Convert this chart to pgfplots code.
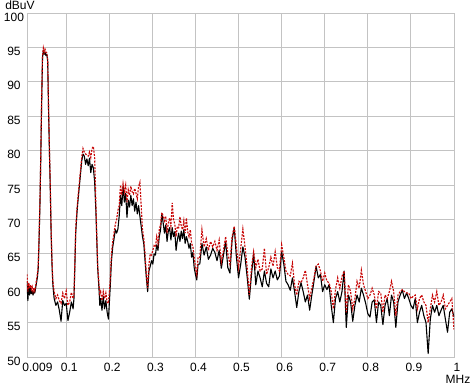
\documentclass[border=0pt]{standalone}
\usepackage{pgfplots}
\pgfplotsset{compat=1.18}
\usepackage{pgfplotstable}
\usepackage{fontspec}
\setmainfont{Liberation Sans}
\definecolor{gridgray}{RGB}{195,195,195}
\definecolor{myred}{RGB}{200,8,8}

\pgfplotstableread{
x b r
0.009 61.0 62.0
0.011 58.2 59.5
0.013 60.3 60.8
0.015 59.0 60.0
0.017 60.0 60.5
0.019 59.2 59.8
0.021 59.6 60.2
0.023 59.0 59.5
0.025 59.5 60.0
0.027 59.3 59.6
0.029 60.0 60.3
0.031 60.8 61.2
0.033 61.5 62.0
0.035 62.8 63.2
0.037 67.0 67.5
0.039 72.0 72.5
0.041 79.0 79.5
0.043 87.0 87.5
0.045 93.5 93.8
0.047 94.6 94.9
0.049 94.0 94.3
0.051 94.3 94.7
0.053 93.8 94.3
0.055 94.0 94.2
0.057 93.0 93.3
0.059 86.0 86.5
0.061 80.0 80.5
0.063 74.5 75.0
0.065 68.0 68.5
0.067 63.5 64.0
0.069 60.5 61.0
0.072 58.5 59.5
0.076 57.5 58.5
0.080 58.0 59.0
0.084 56.8 58.2
0.088 55.2 57.8
0.092 58.2 59.3
0.096 57.5 58.5
0.100 57.8 59.6
0.104 55.3 57.5
0.108 56.5 58.0
0.112 58.0 59.4
0.116 57.0 58.5
0.118 58.5 59.0
0.120 63.0 63.5
0.122 68.0 68.5
0.125 71.0 71.5
0.127 72.5 73.0
0.130 74.5 75.0
0.133 76.5 77.0
0.136 78.5 79.0
0.139 79.5 80.3
0.142 79.2 79.8
0.145 78.0 79.5
0.148 78.8 79.4
0.151 77.8 79.2
0.154 78.9 79.8
0.157 76.8 79.0
0.160 78.0 80.3
0.163 77.5 80.6
0.166 75.5 79.0
0.169 71.0 72.0
0.171 67.0 67.5
0.173 63.0 63.5
0.176 60.0 60.5
0.178 57.5 59.2
0.180 58.5 59.5
0.183 56.8 58.2
0.186 58.8 59.5
0.189 57.0 58.5
0.192 58.2 59.3
0.195 56.5 58.0
0.198 55.5 57.8
0.202 60.0 61.0
0.205 64.0 65.0
0.208 66.0 66.8
0.211 67.2 68.0
0.214 68.5 69.3
0.217 68.0 70.0
0.220 68.6 71.3
0.223 70.5 72.0
0.226 73.5 75.0
0.229 72.0 73.5
0.232 74.8 75.2
0.235 72.5 74.0
0.238 73.8 75.0
0.241 70.3 72.5
0.244 72.8 74.3
0.247 71.8 73.5
0.250 73.5 74.8
0.253 72.0 74.0
0.256 73.0 73.7
0.259 71.2 74.5
0.262 72.5 73.8
0.265 70.8 73.0
0.268 72.0 74.8
0.271 70.5 75.4
0.274 69.0 72.0
0.277 67.5 68.5
0.280 66.5 67.3
0.283 64.0 65.0
0.286 61.5 62.0
0.289 59.5 60.0
0.292 62.5 63.5
0.295 63.2 65.0
0.298 64.0 64.8
0.301 63.5 65.5
0.304 65.0 66.2
0.307 64.8 66.0
0.310 66.3 67.5
0.313 65.5 66.5
0.316 67.5 68.5
0.319 68.5 69.3
0.322 70.8 71.0
0.325 69.5 70.5
0.328 68.0 69.8
0.331 69.2 70.5
0.334 66.8 68.0
0.337 68.3 69.5
0.340 68.8 70.2
0.343 67.0 69.0
0.346 68.8 72.4
0.349 67.5 70.0
0.352 68.2 69.3
0.355 65.5 67.5
0.358 67.0 69.0
0.361 68.0 68.8
0.364 66.8 70.4
0.367 68.3 69.0
0.370 67.2 68.5
0.373 68.5 69.8
0.376 66.5 68.0
0.379 67.5 70.2
0.382 66.8 68.2
0.385 65.8 67.5
0.388 66.5 68.5
0.391 64.5 66.5
0.394 65.2 66.0
0.397 63.0 64.5
0.400 62.0 63.0
0.403 61.2 62.0
0.406 63.5 64.5
0.410 63.5 64.5
0.415 66.5 68.5
0.420 64.8 66.0
0.425 66.0 67.2
0.430 64.2 65.5
0.435 64.8 66.8
0.440 65.8 66.0
0.445 65.2 66.8
0.450 64.0 65.5
0.455 65.5 67.0
0.460 62.9 63.8
0.465 64.8 65.5
0.470 66.8 67.5
0.475 63.0 65.0
0.480 62.2 63.5
0.485 67.0 67.5
0.490 68.8 69.0
0.495 64.5 66.0
0.500 61.5 63.0
0.505 63.5 65.8
0.510 66.0 68.6
0.515 64.5 66.0
0.520 61.6 63.0
0.525 58.4 59.0
0.530 62.0 63.0
0.535 65.0 65.3
0.540 60.5 63.0
0.545 62.5 64.2
0.550 61.5 62.5
0.555 60.2 62.8
0.560 62.5 65.8
0.565 60.7 62.0
0.570 60.2 63.0
0.575 62.8 64.5
0.580 61.5 63.2
0.585 62.5 65.3
0.590 61.2 63.0
0.595 61.8 62.5
0.600 65.3 66.3
0.605 63.5 64.5
0.610 61.0 62.5
0.615 60.5 62.0
0.620 59.7 61.8
0.625 61.5 63.6
0.630 59.5 60.5
0.635 57.2 59.0
0.640 59.5 61.0
0.645 60.8 60.8
0.650 59.5 61.5
0.655 58.0 62.6
0.660 59.0 60.5
0.665 56.8 58.5
0.670 59.0 60.0
0.675 61.0 61.5
0.680 63.2 63.2
0.685 61.5 63.5
0.690 62.0 62.5
0.695 59.5 61.0
0.700 60.5 62.2
0.705 59.8 61.0
0.710 60.5 60.8
0.715 57.5 59.5
0.720 55.0 57.0
0.725 58.5 59.8
0.730 59.5 61.5
0.735 58.0 60.0
0.740 59.5 61.7
0.745 62.5 62.5
0.750 54.3 56.5
0.755 59.0 60.5
0.760 58.0 59.5
0.765 55.2 57.0
0.770 57.5 58.5
0.775 59.0 61.0
0.780 58.0 60.0
0.785 60.0 62.6
0.790 59.0 60.5
0.795 57.8 59.5
0.800 56.3 58.5
0.805 55.8 59.0
0.810 58.0 60.0
0.815 58.3 59.0
0.820 55.0 57.0
0.825 58.0 59.5
0.830 57.5 59.3
0.835 54.7 56.5
0.840 57.5 59.0
0.845 58.5 58.5
0.850 56.0 59.5
0.855 59.0 61.0
0.860 58.0 59.5
0.865 54.3 56.0
0.870 58.0 59.0
0.875 59.0 59.5
0.880 59.7 59.8
0.885 58.5 59.5
0.890 59.3 59.3
0.895 58.5 59.3
0.900 57.5 58.5
0.905 57.0 58.8
0.910 58.5 59.0
0.915 55.0 57.0
0.920 56.5 58.5
0.925 57.5 59.0
0.930 56.0 58.0
0.935 55.0 57.5
0.940 50.5 55.0
0.945 55.5 57.0
0.950 57.5 59.0
0.955 56.5 58.0
0.960 57.5 59.5
0.965 56.0 57.5
0.970 56.8 58.0
0.975 57.5 59.0
0.980 55.5 57.0
0.985 53.6 57.5
0.990 56.5 58.0
0.995 57.0 58.5
1.000 55.8 54.0
}\spec

\begin{document}
\fontsize{12}{14}\selectfont
\begin{tikzpicture}
\begin{axis}[
  at={(0,0)}, anchor=south west,
  scale only axis, width=427pt, height=344pt,
  xmin=0.009, xmax=1, ymin=50, ymax=100,
  xtick={0.009,0.1,0.2,0.3,0.4,0.5,0.6,0.7,0.8,0.9,1},
  xticklabels={\hspace*{15pt}0.009,0.1,0.2,0.3,0.4,0.5,0.6,0.7,0.8,0.9,1},
  ytick={50,55,60,65,70,75,80,85,90,95,100},
  grid=major,
  grid style={gridgray, line width=0.9pt},
  axis line style={gridgray, line width=0.9pt},
  major tick length=0pt,
  tick style={draw=none},
  ticklabel style={font=\fontsize{12}{14}\selectfont},
  /pgf/number format/assume math mode=true,
  yticklabel style={anchor=center, xshift=-13pt, yshift=-4pt},
  xticklabel style={xshift=3pt, yshift=-2pt},
  clip=true,
]
\addplot[black, line width=1.1pt, line join=round] table[x=x,y=b]{\spec};
\addplot[myred, line width=1.15pt, dash pattern=on 2pt off 1.3pt] table[x=x,y=r]{\spec};
\end{axis}
\node[anchor=base, inner sep=0pt] at (-7pt,347pt) {dBuV};
\node[anchor=center, inner sep=0pt] at (431pt,-22.5pt) {MHz};
\pgfresetboundingbox
\path[use as bounding box] (-27pt,-28pt) rectangle (447pt,357pt);
\end{tikzpicture}
\end{document}
